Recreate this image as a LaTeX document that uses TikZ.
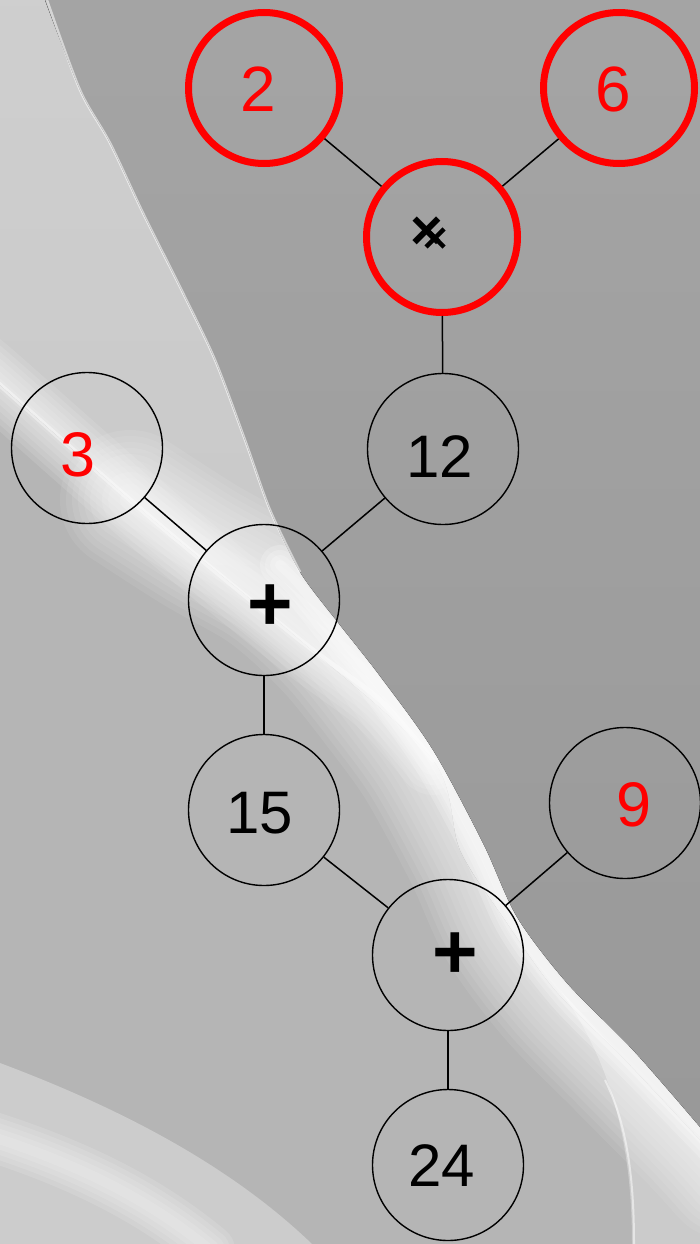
\documentclass[tikz,border=0pt]{standalone}
\usepackage{fontspec}
\setmainfont{Liberation Sans}
\definecolor{bgmid}{gray}{0.71}
\definecolor{bglighttop}{gray}{0.81}
\definecolor{bglightbot}{gray}{0.77}
\definecolor{bgdarktop}{gray}{0.645}
\definecolor{bgdarkbot}{gray}{0.60}
\definecolor{bgarc}{gray}{0.80}
\begin{document}
\begin{tikzpicture}[x=1pt,y=-1pt,
  ring/.style={circle, draw=black, line width=1.4pt, minimum size=151pt, inner sep=0pt},
  redring/.style={circle, draw=red, line width=7pt, minimum size=151pt, inner sep=0pt},
  edge/.style={draw=black, line width=1.5pt},
  num/.style={inner sep=0pt, text=black, font=\fontsize{60}{60}\selectfont},
  rednum/.style={inner sep=0pt, text=red, font=\fontsize{63}{63}\selectfont},
  heavynum/.style={inner sep=0pt, text=red, font=\fontsize{64}{64}\selectfont},
  opsym/.style={inner sep=0pt, text=black, font=\fontsize{78}{78}\selectfont\bfseries},
  mulsym/.style={inner sep=0pt, text=black, font=\fontsize{56}{56}\selectfont\bfseries},
  glow/.style={draw=white, line cap=round, line join=round}]
\useasboundingbox (0,0) rectangle (700,1244);
% ---------- background ----------
\fill[bgmid] (0,0) rectangle (700,1244);
% light upper-left region
\fill[top color=bglighttop, bottom color=bglightbot]
  (0,0) -- plot[smooth] coordinates {(45,0) (80,90) (110,143) (143,213) (183,293) (215,360) (245,440) (270,510) (300,572) (340,625) (380,676) (433,750) (483,843) (517,917) (567,983) (633,1050) (700,1127)}
  -- (700,1140) -- plot[smooth] coordinates {(700,1140) (625,1060) (555,990) (505,920) (460,850) (433,760) (300,640) (150,517) (0,385)} -- cycle;
% broad soft glow along the lower-left side of the dark edge
\foreach \w in {140,128,...,8}{
  \draw[glow, line width=\w pt, opacity=0.08] plot[smooth] coordinates {(130,500) (200,545) (262,580) (300,610) (340,650) (380,700) (425,762) (474,852) (508,926) (558,993) (624,1060) (700,1137) (730,1170)};
}
% upper-left streak joining the edge
\foreach \w in {70,60,...,10}{
  \draw[glow, line width=\w pt, opacity=0.11] plot[smooth] coordinates {(-20,368) (0,385) (150,517) (300,640) (380,700) (433,760)};
}
\draw[glow, line width=5pt, opacity=0.4] plot[smooth] coordinates {(-20,368) (0,385) (150,517) (300,640) (380,700) (433,760)};
% bright core hugging the edge
\foreach \w in {40,30,20,10}{
  \draw[glow, line width=\w pt, opacity=0.2] plot[smooth] coordinates {(280,565) (300,585) (340,636) (380,686) (433,760) (483,852) (517,926) (567,993) (633,1060) (720,1150)};
}
% lower-right light patch with faint inner line
\fill[white, opacity=0.3] plot[smooth] coordinates {(560,990) (625,1060) (700,1140)} -- (700,1244) -- (632,1244) .. controls (632,1140) and (610,1060) .. (560,990) -- cycle;
\draw[white, opacity=0.5, line width=2pt] (634,1244) .. controls (634,1170) and (625,1120) .. (605,1080);
% dark upper-right region
\fill[top color=bgdarktop, bottom color=bgdarkbot]
  (700,0) -- plot[smooth] coordinates {(45,0) (80,90) (110,143) (143,213) (183,293) (215,360) (245,440) (270,510) (300,572) (340,625) (380,676) (433,750) (483,843) (517,917) (567,983) (633,1050) (700,1127)} -- cycle;
% thin white line along boundary (upper part)
\draw[white, opacity=0.55, line width=2.5pt] plot[smooth] coordinates {(47,0) (80,90) (110,143) (143,213) (183,293) (215,360) (245,440) (270,510) (300,572)};
% bottom-left arc
\fill[bgarc] (0,1063) .. controls (120,1108) and (230,1165) .. (312,1244) -- (0,1244) -- cycle;
\foreach \w in {50,40,...,10}{
  \draw[glow, line width=\w pt, opacity=0.12] (-10,1136) .. controls (80,1165) and (150,1200) .. (210,1250);
}
% ---------- nodes ----------
\node[redring] (n2)   at (264,88)  {};
\node[redring] (n6)   at (619,88)  {};
\node[redring] (mul)  at (442,237) {};
\node[ring]    (n12)  at (443,449) {};
\node[ring]    (n3)   at (87,448)  {};
\node[ring]    (add1) at (264,600) {};
\node[ring]    (n15)  at (264,810) {};
\node[ring]    (n9)   at (625,803) {};
\node[ring]    (add2) at (448,955) {};
\node[ring]    (n24)  at (448,1165) {};
% ---------- labels ----------
\node[heavynum] (t2) at (258,89) {2};
\node[heavynum] (t6) at (613,89) {6};
\node[mulsym] (tmul) at (427,233) {×};
\draw[line width=4.5pt] (426,229) -- (444,247) (426,247) -- (444,229);
\node[num] (t12) at (440,457) {12};
\node[rednum] (t3) at (78,455) {3};
\node[opsym] (tadd1) at (270,608) {+};
\node[num] (t15) at (260,813) {15};
\node[rednum] (t9) at (634,805) {9};
\node[opsym] (tadd2) at (455,956) {+};
\node[num] (t24) at (442,1166) {24};
% ---------- connectors ----------
\draw[edge] (n2) -- (mul);
\draw[edge] (n6) -- (mul);
\draw[edge] (mul) -- (n12);
\draw[edge] (n12) -- (add1);
\draw[edge] (n3) -- (add1);
\draw[edge] (add1) -- (n15);
\draw[edge] (n15) -- (add2);
\draw[edge] (n9) -- (add2);
\draw[edge] (add2) -- (n24);
\end{tikzpicture}
\end{document}
